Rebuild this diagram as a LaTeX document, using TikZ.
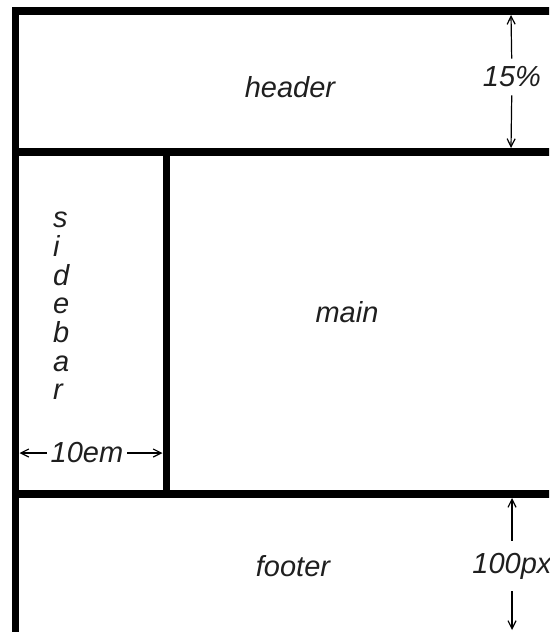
\documentclass[tikz,border=0pt]{standalone}
\usepackage{fontspec}
\setmainfont{Liberation Sans}
\usetikzlibrary{arrows.meta,positioning}

\begin{document}
\begin{tikzpicture}[x=1pt,y=-1pt,>={Straight Barb[length=8pt,width=8pt]},
  frame/.style={line width=7.5pt},
  dim/.style={->,line width=1.2pt},
  lbl/.style={font=\fontsize{29}{28.7}\selectfont\itshape,text=black!88,inner xsep=4pt,inner ysep=12pt}]
  \useasboundingbox (0,0) rectangle (549,632);
  \clip (0,0) rectangle (549,632);
  % layout frame
  \coordinate (tl) at (15.5,11);
  \coordinate (br) at (565,662);
  \coordinate (hl) at (15.5,152);
  \coordinate (hr) at (565,152);
  \coordinate (fl) at (15.5,494);
  \coordinate (fr) at (565,494);
  \coordinate (st) at (166.5,152);
  \coordinate (sb) at (166.5,494);
  \draw[frame] (tl) rectangle (br);
  \draw[frame] (hl) -- (hr) (fl) -- (fr) (st) -- (sb);
  % region names
  \node[lbl]          (header)  at (290,87)   {header};
  \node[lbl]          (main)    at (347,312)  {main};
  \node[lbl]          (footer)  at (293,566)  {footer};
  \node[lbl,align=left,anchor=west] (sidebar) at (49,306) {s\\i\\d\\e\\b\\a\\r};
  % dimensions
  \coordinate (pct top) at (511,15);
  \coordinate (pct bot) at (511,148);
  \coordinate (em l)    at (19.5,453);
  \coordinate (em r)    at (162.5,453);
  \coordinate (px top)  at (512,498);
  \coordinate (px bot)  at (512,630);
  \node[lbl,inner ysep=8pt] (pct) at (512,77)  {15\%};
  \node[lbl]                (em)  at (87,453)  {10em};
  \node[lbl]                (px)  at (512,566) {100px};
  \path
      (pct) edge [dim] (pct top)
      (pct) edge [dim] (pct bot)
      (em)  edge [dim] (em l)
      (em)  edge [dim] (em r)
      (px)  edge [dim] (px top)
      (px)  edge [dim] (px bot);
\end{tikzpicture}
\end{document}
